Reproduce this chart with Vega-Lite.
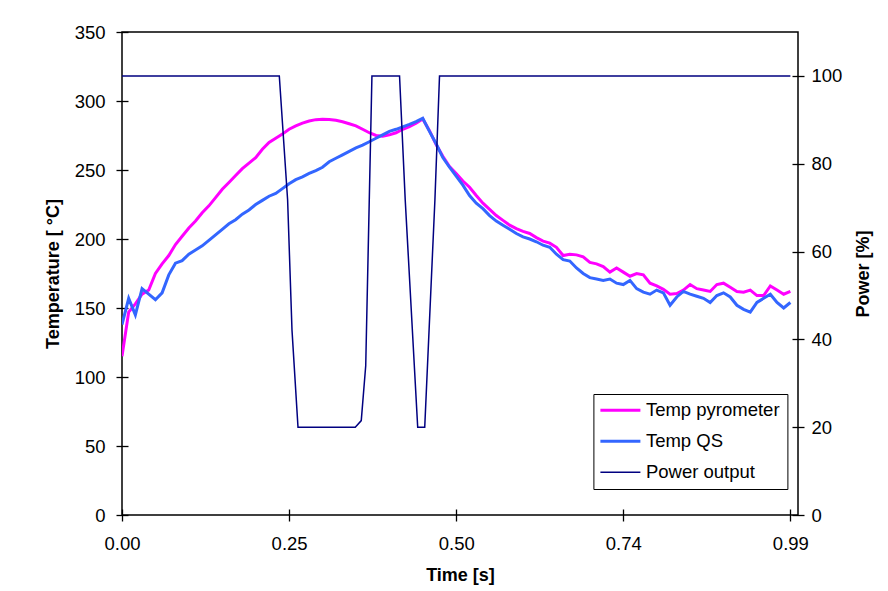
{
  "$schema": "https://vega.github.io/schema/vega-lite/v6.json",
  "width": 676,
  "height": 483,
  "autosize": "none",
  "padding": {"left": 122, "top": 32, "right": 90, "bottom": 76},
  "background": "white",
  "config": {
    "view": {"stroke": "black", "strokeWidth": 1.5},
    "font": "Liberation Sans",
    "axis": {
      "grid": false, "domain": false, "tickColor": "black", "tickWidth": 1.3,
      "tickSize": 12, "offset": -6, "labelColor": "black", "labelFontSize": 18.5,
      "labelFont": "Liberation Sans", "titleFont": "Liberation Sans", "titleFontSize": 18,
      "titleFontWeight": "bold", "titleColor": "black", "labelFlush": false,
      "labelOverlap": false, "labelBound": false
    }
  },
  "datasets": {
    "temp": [
      {"t": 0, "pyro": 115, "qs": 138},
      {"t": 0.0099, "pyro": 147, "qs": 157},
      {"t": 0.0198, "pyro": 153, "qs": 145},
      {"t": 0.0297, "pyro": 160, "qs": 164},
      {"t": 0.0396, "pyro": 163, "qs": 160},
      {"t": 0.0495, "pyro": 175, "qs": 156},
      {"t": 0.0594, "pyro": 182, "qs": 161},
      {"t": 0.0693, "pyro": 188, "qs": 174},
      {"t": 0.0792, "pyro": 196, "qs": 182.5},
      {"t": 0.0891, "pyro": 202, "qs": 184.3},
      {"t": 0.099, "pyro": 208, "qs": 189},
      {"t": 0.1089, "pyro": 213, "qs": 192},
      {"t": 0.1188, "pyro": 219, "qs": 195},
      {"t": 0.1287, "pyro": 224, "qs": 199},
      {"t": 0.1386, "pyro": 230, "qs": 203},
      {"t": 0.1485, "pyro": 236, "qs": 207},
      {"t": 0.1584, "pyro": 241, "qs": 211},
      {"t": 0.1683, "pyro": 246, "qs": 214},
      {"t": 0.1782, "pyro": 251, "qs": 218},
      {"t": 0.1881, "pyro": 255, "qs": 221},
      {"t": 0.198, "pyro": 259, "qs": 225},
      {"t": 0.2079, "pyro": 265, "qs": 228},
      {"t": 0.2178, "pyro": 270, "qs": 231},
      {"t": 0.2277, "pyro": 273, "qs": 233},
      {"t": 0.2376, "pyro": 276, "qs": 236.5},
      {"t": 0.2475, "pyro": 279.5, "qs": 240},
      {"t": 0.2574, "pyro": 282, "qs": 243},
      {"t": 0.2673, "pyro": 284, "qs": 245},
      {"t": 0.2772, "pyro": 285.5, "qs": 247.5},
      {"t": 0.2871, "pyro": 286.5, "qs": 249.6},
      {"t": 0.297, "pyro": 286.7, "qs": 252},
      {"t": 0.3069, "pyro": 286.6, "qs": 256},
      {"t": 0.3168, "pyro": 286, "qs": 258.5},
      {"t": 0.3267, "pyro": 285, "qs": 261},
      {"t": 0.3366, "pyro": 283.5, "qs": 263.5},
      {"t": 0.3465, "pyro": 282, "qs": 266},
      {"t": 0.3564, "pyro": 279.5, "qs": 268},
      {"t": 0.3663, "pyro": 277, "qs": 270.5},
      {"t": 0.3762, "pyro": 275, "qs": 273},
      {"t": 0.3861, "pyro": 274.5, "qs": 275.5},
      {"t": 0.396, "pyro": 275.5, "qs": 278},
      {"t": 0.4059, "pyro": 277, "qs": 279.5},
      {"t": 0.4158, "pyro": 279.5, "qs": 281.3},
      {"t": 0.4257, "pyro": 281.5, "qs": 283},
      {"t": 0.4356, "pyro": 284, "qs": 285},
      {"t": 0.4455, "pyro": 287, "qs": 287.5},
      {"t": 0.4554, "pyro": 278.5, "qs": 278},
      {"t": 0.4653, "pyro": 268.5, "qs": 269},
      {"t": 0.4752, "pyro": 260, "qs": 259},
      {"t": 0.4851, "pyro": 252.5, "qs": 252},
      {"t": 0.495, "pyro": 247.5, "qs": 245.5},
      {"t": 0.5049, "pyro": 242, "qs": 239},
      {"t": 0.5148, "pyro": 237.5, "qs": 231.5},
      {"t": 0.5247, "pyro": 231.5, "qs": 226},
      {"t": 0.5346, "pyro": 226, "qs": 222},
      {"t": 0.5445, "pyro": 221.5, "qs": 217},
      {"t": 0.5544, "pyro": 217, "qs": 213},
      {"t": 0.5643, "pyro": 213.5, "qs": 210},
      {"t": 0.5742, "pyro": 210, "qs": 207},
      {"t": 0.5841, "pyro": 207.5, "qs": 204},
      {"t": 0.594, "pyro": 205.5, "qs": 201.5},
      {"t": 0.6039, "pyro": 204, "qs": 200},
      {"t": 0.6138, "pyro": 201, "qs": 198},
      {"t": 0.6237, "pyro": 198.5, "qs": 195.5},
      {"t": 0.6336, "pyro": 197, "qs": 194},
      {"t": 0.6435, "pyro": 194, "qs": 189},
      {"t": 0.6534, "pyro": 188, "qs": 185},
      {"t": 0.6633, "pyro": 189, "qs": 184},
      {"t": 0.6732, "pyro": 188.5, "qs": 179},
      {"t": 0.6831, "pyro": 187, "qs": 175},
      {"t": 0.693, "pyro": 183, "qs": 172},
      {"t": 0.7029, "pyro": 182, "qs": 171},
      {"t": 0.7128, "pyro": 180, "qs": 170},
      {"t": 0.7227, "pyro": 176, "qs": 171},
      {"t": 0.7326, "pyro": 179, "qs": 168},
      {"t": 0.7425, "pyro": 176, "qs": 167},
      {"t": 0.7524, "pyro": 173, "qs": 170},
      {"t": 0.7623, "pyro": 175, "qs": 164},
      {"t": 0.7722, "pyro": 174, "qs": 161.5},
      {"t": 0.7821, "pyro": 168, "qs": 160},
      {"t": 0.792, "pyro": 166, "qs": 163},
      {"t": 0.8019, "pyro": 163.5, "qs": 161},
      {"t": 0.8118, "pyro": 160, "qs": 152},
      {"t": 0.8217, "pyro": 160.5, "qs": 158},
      {"t": 0.8316, "pyro": 163, "qs": 162},
      {"t": 0.8415, "pyro": 167, "qs": 160},
      {"t": 0.8514, "pyro": 164, "qs": 158.5},
      {"t": 0.8613, "pyro": 163, "qs": 157},
      {"t": 0.8712, "pyro": 162, "qs": 154},
      {"t": 0.8811, "pyro": 167, "qs": 159},
      {"t": 0.891, "pyro": 168, "qs": 161},
      {"t": 0.9009, "pyro": 165, "qs": 158},
      {"t": 0.9108, "pyro": 162, "qs": 152},
      {"t": 0.9207, "pyro": 161.5, "qs": 149},
      {"t": 0.9306, "pyro": 163, "qs": 147},
      {"t": 0.9405, "pyro": 159, "qs": 154},
      {"t": 0.9504, "pyro": 159, "qs": 157},
      {"t": 0.9603, "pyro": 166, "qs": 160},
      {"t": 0.9702, "pyro": 163, "qs": 154},
      {"t": 0.9801, "pyro": 160, "qs": 150},
      {"t": 0.99, "pyro": 162, "qs": 154}
    ],
    "power": [
      {"t": 0, "power": 100},
      {"t": 0.233, "power": 100},
      {"t": 0.2453, "power": 71.8},
      {"t": 0.2518, "power": 42.1},
      {"t": 0.2607, "power": 20},
      {"t": 0.3455, "power": 20},
      {"t": 0.3544, "power": 21.5},
      {"t": 0.361, "power": 34},
      {"t": 0.3702, "power": 100},
      {"t": 0.4111, "power": 100},
      {"t": 0.4195, "power": 71.8},
      {"t": 0.438, "power": 20},
      {"t": 0.4484, "power": 20},
      {"t": 0.4635, "power": 71.8},
      {"t": 0.4703, "power": 100},
      {"t": 0.99, "power": 100}
    ]
  },
  "layer": [
    {
      "data": {"name": "temp"},
      "transform": [{"fold": ["pyro", "qs"], "as": ["series", "value"]}],
      "mark": {"type": "line", "strokeWidth": 3, "clip": true},
      "encoding": {
        "x": {
          "field": "t", "type": "quantitative",
          "scale": {"domain": [0, 1.0013], "nice": false, "zero": false},
          "axis": {
            "values": [0, 0.2475, 0.4951, 0.7425, 0.99], "format": ".2f",
            "labelPadding": 13, "titlePadding": 14, "title": "Time [s]"
          }
        },
        "y": {
          "field": "value", "type": "quantitative",
          "scale": {"domain": [0, 350], "nice": false},
          "axis": {
            "values": [0, 50, 100, 150, 200, 250, 300, 350],
            "labelPadding": 11, "titlePadding": 12, "title": "Temperature [ °C]"
          }
        },
        "color": {
          "field": "series", "type": "nominal",
          "scale": {"domain": ["pyro", "qs", "power"], "range": ["#FF00FF", "#3366FF", "#000080"]},
          "legend": {
            "orient": "none", "legendX": 471.4, "legendY": 362, "title": null,
            "symbolType": "stroke", "symbolSize": 100, "labelOffset": 27,
            "rowPadding": 12, "padding": 7, "fillColor": "white", "strokeColor": "black",
            "labelFontSize": 18.5, "labelColor": "black", "labelFont": "Liberation Sans",
            "labelExpr": "datum.value == 'pyro' ? 'Temp pyrometer' : datum.value == 'qs' ? 'Temp QS' : 'Power output'",
            "encode": {
              "symbols": {
                "update": {
                  "size": {"value": 1600},
                  "x": {"value": 20},
                  "strokeWidth": {"signal": "datum.value == 'power' ? 1.5 : 3"}
                }
              }
            }
          }
        }
      }
    },
    {
      "data": {"name": "power"},
      "transform": [{"fold": ["power"], "as": ["series", "value"]}],
      "mark": {"type": "line", "strokeWidth": 1.5, "clip": true},
      "encoding": {
        "x": {"field": "t", "type": "quantitative"},
        "y": {
          "field": "value", "type": "quantitative",
          "scale": {"domain": [0, 110], "nice": false},
          "axis": {
            "orient": "right", "values": [0, 20, 40, 60, 80, 100],
            "labelPadding": 7, "titlePadding": 13, "title": "Power [%]",
            "titleAngle": 270, "titleBaseline": "top"
          }
        },
        "color": {"field": "series", "type": "nominal"}
      }
    }
  ],
  "resolve": {"scale": {"y": "independent"}, "axis": {"y": "independent"}}
}
